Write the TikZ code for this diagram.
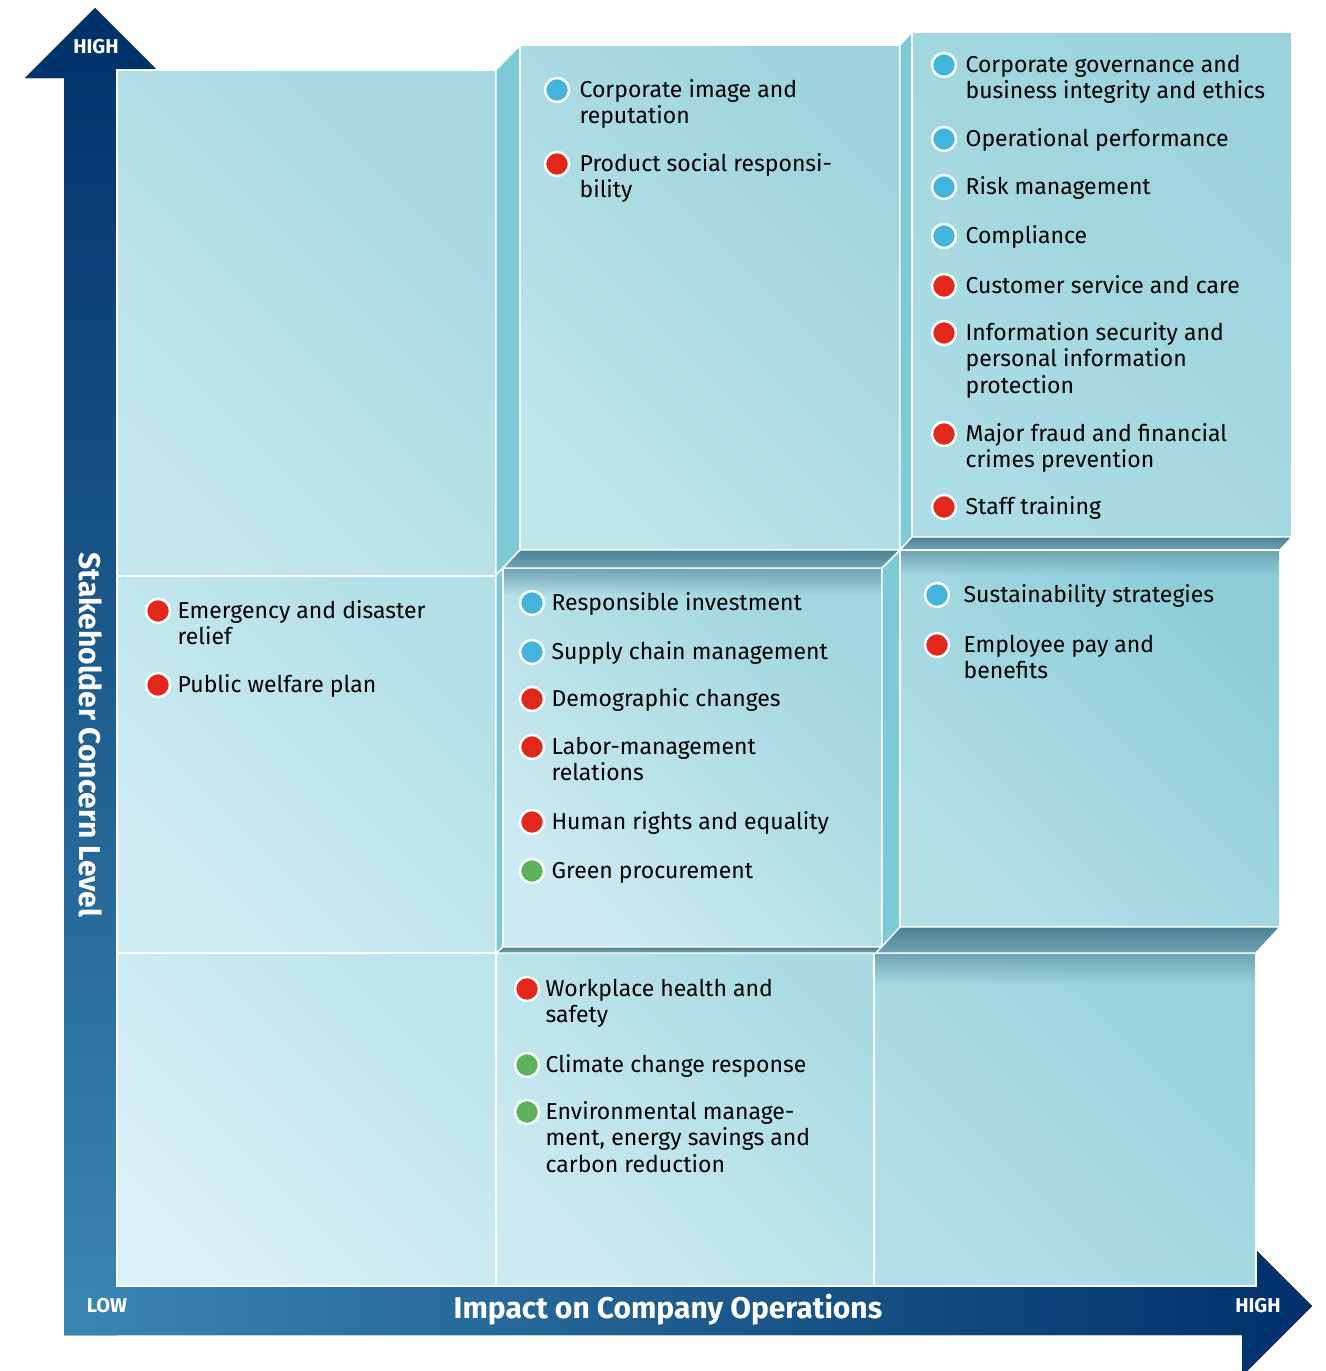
\documentclass[tikz,border=0pt]{standalone}
\usepackage{fontspec}
\setmainfont{Fira Sans}
\usetikzlibrary{positioning,fadings}

\definecolor{navy}{RGB}{0,48,105}
\definecolor{steel}{RGB}{58,135,179}
\definecolor{side}{RGB}{124,202,214}
\definecolor{shadehi}{RGB}{76,130,148}
\definecolor{shadelo}{RGB}{110,165,181}
\definecolor{dotblue}{RGB}{69,180,220}
\definecolor{dotred}{RGB}{227,40,27}
\definecolor{dotgreen}{RGB}{92,177,90}
% cell colours: dark (top right) / light (bottom left)
\definecolor{tlhi}{RGB}{166,217,226}\definecolor{tllo}{RGB}{196,230,237}
\definecolor{mlhi}{RGB}{178,223,232}\definecolor{mllo}{RGB}{208,236,243}
\definecolor{blhi}{RGB}{188,228,236}\definecolor{bllo}{RGB}{218,240,247}
\definecolor{bmhi}{RGB}{170,219,228}\definecolor{bmlo}{RGB}{204,234,241}
\definecolor{brhi}{RGB}{152,211,221}\definecolor{brlo}{RGB}{178,223,231}
\definecolor{tmhi}{RGB}{157,212,221}\definecolor{tmlo}{RGB}{190,228,236}
\definecolor{trhi}{RGB}{155,211,220}\definecolor{trlo}{RGB}{172,220,229}
\definecolor{mmhi}{RGB}{160,214,223}\definecolor{mmlo}{RGB}{204,234,241}
\definecolor{mrhi}{RGB}{140,205,216}\definecolor{mrlo}{RGB}{180,224,232}

\tikzset{
  cell/.style={draw=white, line width=0.7pt, top color=#1hi, bottom color=#1lo, shading angle=-45},
  sideface/.style={fill=side, draw=white, line width=0.7pt},
  darkface/.style={top color=shadehi, bottom color=shadelo, draw=white, line width=0.7pt},
  shadow/.style={fill=shadelo, path fading=south},
  dot/.style={circle, draw=white, line width=1.2pt, minimum size=12pt, inner sep=0pt},
  topic/.style={anchor=north west, inner sep=0pt, align=left, font=\fontsize{11.5}{13.3}\selectfont},
  axis label/.style={text=white, font=\fontsize{15}{17}\selectfont\bfseries},
  tick label/.style={text=white, font=\fontsize{10}{11}\selectfont\bfseries}
}

% dot + text of one topic: name, colour, x, y, gap
\newcommand\topic[6]{%
  \node[dot, fill=#2] (d#1) at (#3,#4) {};
  \node[topic] (t#1) at ([xshift=#5, yshift=6pt]d#1.east) {\strut #6};
}

\begin{document}
\begin{tikzpicture}[x=0.5pt, y=-0.5pt]
    \useasboundingbox (0,0) rectangle (1326,1371);

% the two axes
    \fill[top color=navy, bottom color=steel] (64,1335) -- (64,78) -- (25,78) -- (95,8) -- (165,78) -- (117,78) -- (117,1335) -- cycle;
    \fill[left color=steel, right color=navy] (64,1287) -- (1242,1287) -- (1242,1236) -- (1312,1306) -- (1242,1376) -- (1242,1335) -- (64,1335) -- cycle;

% flat cells
    \draw[cell=tl] (117,70) rectangle (496,576);
    \draw[cell=ml] (117,576) rectangle (496,953);
    \draw[cell=bl] (117,953) rectangle (496,1286);
    \draw[cell=bm] (496,953) rectangle (874,1286);
    \draw[cell=br] (874,953) rectangle (1256,1286);
    \fill[shadow] (875,954) rectangle (1255,985);

% raised box, top middle
    \filldraw[sideface] (496,70) -- (520,45) -- (520,550) -- (496,575) -- cycle;
    \draw[cell=tm] (520,45) rectangle (900,550);

% raised box, top right
    \filldraw[sideface] (900,45) -- (912,32) -- (912,537) -- (900,550) -- cycle;
    \draw[cell=tr] (912,32) rectangle (1292,537);
    \filldraw[darkface] (900,550) -- (912,537) -- (1292,537) -- (1280,550) -- cycle;

% box in the centre
    \filldraw[sideface] (496,575) -- (503,568) -- (503,947) -- (496,953) -- cycle;
    \draw[cell=mm] (503,568) rectangle (882,947);
    \fill[shadow] (504,569) rectangle (881,595);
    \filldraw[darkface] (503,568) -- (520,550) -- (900,550) -- (882,568) -- cycle;
    \filldraw[darkface] (496,953) -- (503,947) -- (882,947) -- (876,953) -- cycle;

% box, middle right
    \filldraw[sideface] (882,568) -- (900,550) -- (900,927) -- (882,947) -- cycle;
    \draw[cell=mr] (900,550) rectangle (1280,927);
    \fill[shadow] (901,551) rectangle (1279,575);
    \filldraw[darkface] (876,953) -- (900,927) -- (1280,927) -- (1256,953) -- cycle;

% topics
    \topic{ci}{dotblue}{557}{90}{4.5pt}{Corporate image and\\reputation}
    \topic{ps}{dotred}{557}{164}{4.5pt}{Product social responsi-\\bility}

    \topic{cg}{dotblue}{944}{65}{4pt}{Corporate governance and\\business integrity and ethics}
    \topic{op}{dotblue}{944}{139}{4pt}{Operational performance}
    \topic{rm}{dotblue}{944}{187}{4pt}{Risk management}
    \topic{co}{dotblue}{944}{236}{4pt}{Compliance}
    \topic{cs}{dotred}{944}{286}{4pt}{Customer service and care}
    \topic{is}{dotred}{944}{333}{4pt}{Information security and\\personal information\\protection}
    \topic{mf}{dotred}{944}{434}{4pt}{Major fraud and financial\\crimes prevention}
    \topic{st}{dotred}{944}{507}{4pt}{Staff training}

    \topic{ed}{dotred}{158}{611}{3pt}{Emergency and disaster\\relief}
    \topic{pw}{dotred}{158}{685}{3pt}{Public welfare plan}

    \topic{ri}{dotblue}{532}{603}{3pt}{Responsible investment}
    \topic{sc}{dotblue}{532}{652}{3pt}{Supply chain management}
    \topic{dc}{dotred}{532}{699}{3pt}{Demographic changes}
    \topic{lm}{dotred}{532}{747}{3pt}{Labor-management\\relations}
    \topic{hr}{dotred}{532}{822}{3pt}{Human rights and equality}
    \topic{gp}{dotgreen}{532}{871}{3pt}{Green procurement}

    \topic{ss}{dotblue}{937}{595}{6.5pt}{Sustainability strategies}
    \topic{ep}{dotred}{937}{645}{6.5pt}{Employee pay and\\benefits}

    \topic{wh}{dotred}{527}{989}{2.5pt}{Workplace health and\\safety}
    \topic{cc}{dotgreen}{527}{1065}{2.5pt}{Climate change response}
    \topic{em}{dotgreen}{527}{1112}{2.5pt}{Environmental manage-\\ment, energy savings and\\carbon reduction}

% axis texts
    \node[axis label, rotate=-90] (ylab) at (91,735) {Stakeholder Concern Level};
    \node[axis label] (xlab) at (668,1310) {Impact on Company Operations};
    \node[tick label] (yhigh) at (96,47) {HIGH};
    \node[tick label] (xlow) at (107,1306) {LOW};
    \node[tick label] (xhigh) at (1258,1306) {HIGH};
\end{tikzpicture}
\end{document}
